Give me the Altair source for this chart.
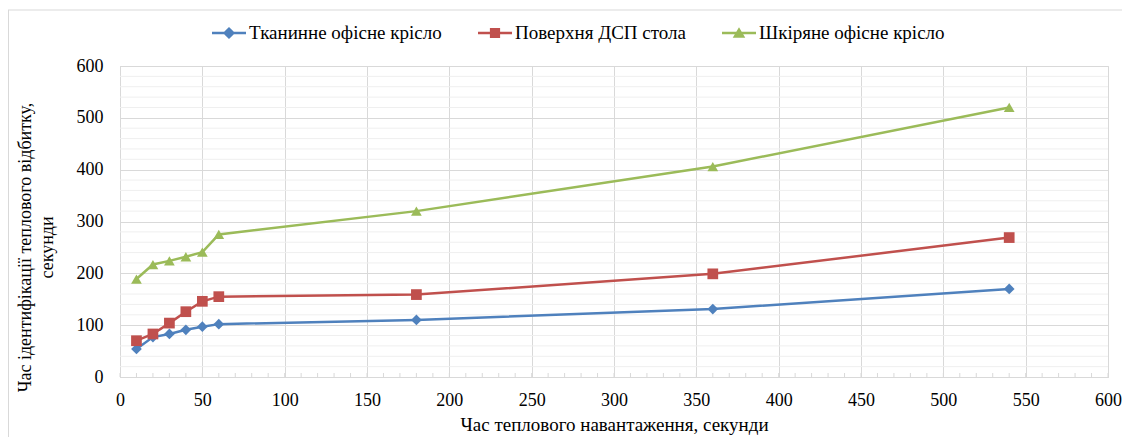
import altair as alt
import pandas as pd

# ---- data ----
series_names = ["Тканинне офісне крісло", "Поверхня ДСП стола", "Шкіряне офісне крісло"]
x_vals = [10, 20, 30, 40, 50, 60, 180, 360, 540]
fabric_chair = [54, 77, 83, 91, 97, 102, 110, 131, 170]
dsp_table = [70, 83, 104, 126, 146, 155, 159, 199, 269]
leather_chair = [189, 217, 224, 232, 241, 275, 320, 406, 520]
x_tick_values = [0, 50, 100, 150, 200, 250, 300, 350, 400, 450, 500, 550, 600]
y_tick_values = [0, 100, 200, 300, 400, 500, 600]
y_minor_grid = [v for v in range(20, 600, 20) if v % 100 != 0]
x_minor_ticks = [v for v in range(0, 601, 10)]

colors = ["#4F81BD", "#C0504D", "#9BBB59"]
marker_shapes = ["diamond", "square", "triangle-up"]
LINE = "M-1,-0.075H1V0.075H-1Z"
legend_paths = [
    LINE + "M0,-0.36L0.36,0L0,0.36L-0.36,0Z",
    LINE + "M-0.3,-0.3H0.3V0.3H-0.3Z",
    LINE + "M0,-0.34L0.37,0.28H-0.37Z",
]

rows = []
for name, vals in zip(series_names, [fabric_chair, dsp_table, leather_chair]):
    for xv, yv in zip(x_vals, vals):
        rows.append({"series": name, "x": xv, "y": yv})
df = pd.DataFrame(rows)
ticks_df = pd.DataFrame({"x": x_minor_ticks})
ygrid_df = pd.DataFrame({"y": y_minor_grid})
one = pd.DataFrame({"a": [0]})

FONT = "Liberation Serif"
W, H = 988, 311
PAD_L, PAD_T = 112, 58

color_scale = alt.Scale(domain=series_names, range=colors)
x_scale = alt.Scale(domain=[0, 600], nice=False)
y_scale = alt.Scale(domain=[0, 600], nice=False)

x_axis = alt.Axis(values=x_tick_values,
                  title="Час теплового навантаження, секунди",
                  grid=True, gridColor="#d9d9d9", domainColor="#d9d9d9",
                  ticks=False, tickSize=0, labelPadding=14, labelFlush=False,
                  labelOverlap=False,
                  labelFont=FONT, labelFontSize=18, labelColor="#000000",
                  titleFont=FONT, titleFontSize=19, titleFontWeight="normal",
                  titleColor="#000000", titlePadding=6)
y_axis = alt.Axis(values=y_tick_values, labelOverlap=False,
                  title=["Час ідентифікації теплового відбитку,", "секунди"],
                  grid=True, gridColor="#d9d9d9", domainColor="#d9d9d9",
                  ticks=False, tickSize=0, labelPadding=17,
                  labelFont=FONT, labelFontSize=18, labelColor="#000000",
                  titleFont=FONT, titleFontSize=18, titleFontWeight="normal",
                  titleColor="#000000", titleAngle=270, titleAlign="center",
                  titleBaseline="alphabetic", titleX=-90, titleY=181,
                  titleLineHeight=22)

x_enc = alt.X("x:Q", scale=x_scale, axis=x_axis)
y_enc = alt.Y("y:Q", scale=y_scale, axis=y_axis)

base = alt.Chart(df)

minor_grid = alt.Chart(ygrid_df).mark_rule(color="#efefef", strokeWidth=1).encode(
    y=y_enc, x=alt.value(0), x2=alt.value(W))

minor_ticks = alt.Chart(ticks_df).mark_rule(color="#d9d9d9", strokeWidth=1).encode(
    x=x_enc, y=alt.value(H), y2=alt.value(H - 4))

legend_def = alt.Legend(orient="none", legendX=92, legendY=-50, direction="horizontal",
                        title=None, columnPadding=36, labelOffset=3, symbolSize=1156,
                        labelFont=FONT, labelFontSize=19, labelColor="#000000",
                        labelLimit=400, symbolStrokeWidth=0, symbolOpacity=1)

legend_layer = base.mark_point(filled=True, opacity=0).encode(
    x=x_enc, y=y_enc,
    color=alt.Color("series:N", scale=color_scale, legend=legend_def),
    shape=alt.Shape("series:N", scale=alt.Scale(domain=series_names, range=legend_paths),
                    legend=legend_def))

series_layers = []
for name, shp, col in zip(series_names, marker_shapes, colors):
    sub = base.transform_filter(alt.datum.series == name)
    series_layers.append(sub.mark_line(color=col, strokeWidth=2.5).encode(x=x_enc, y=y_enc))
for name, shp, col in zip(series_names, marker_shapes, colors):
    sub = base.transform_filter(alt.datum.series == name)
    series_layers.append(
        sub.mark_point(filled=True, shape=shp, size=115, color=col, opacity=1, strokeWidth=0)
        .encode(x=x_enc, y=y_enc))

frame_left = alt.Chart(one).mark_rule(color="#d9d9d9", strokeWidth=1).encode(
    x=alt.value(-PAD_L + 0.5), y=alt.value(-56), y2=alt.value(400))
frame_top = alt.Chart(one).mark_rule(color="#d9d9d9", strokeWidth=1).encode(
    y=alt.value(-56), x=alt.value(-PAD_L), x2=alt.value(1010))

chart = alt.layer(minor_grid, minor_ticks, legend_layer, *series_layers,
                  frame_left, frame_top).properties(
    width=W, height=H, autosize="none",
    padding={"left": PAD_L, "top": PAD_T, "right": 14, "bottom": 60},
).configure_view(stroke=None).configure(background="white")

chart.save("out.html", embed_options={"renderer": "svg", "actions": False})
